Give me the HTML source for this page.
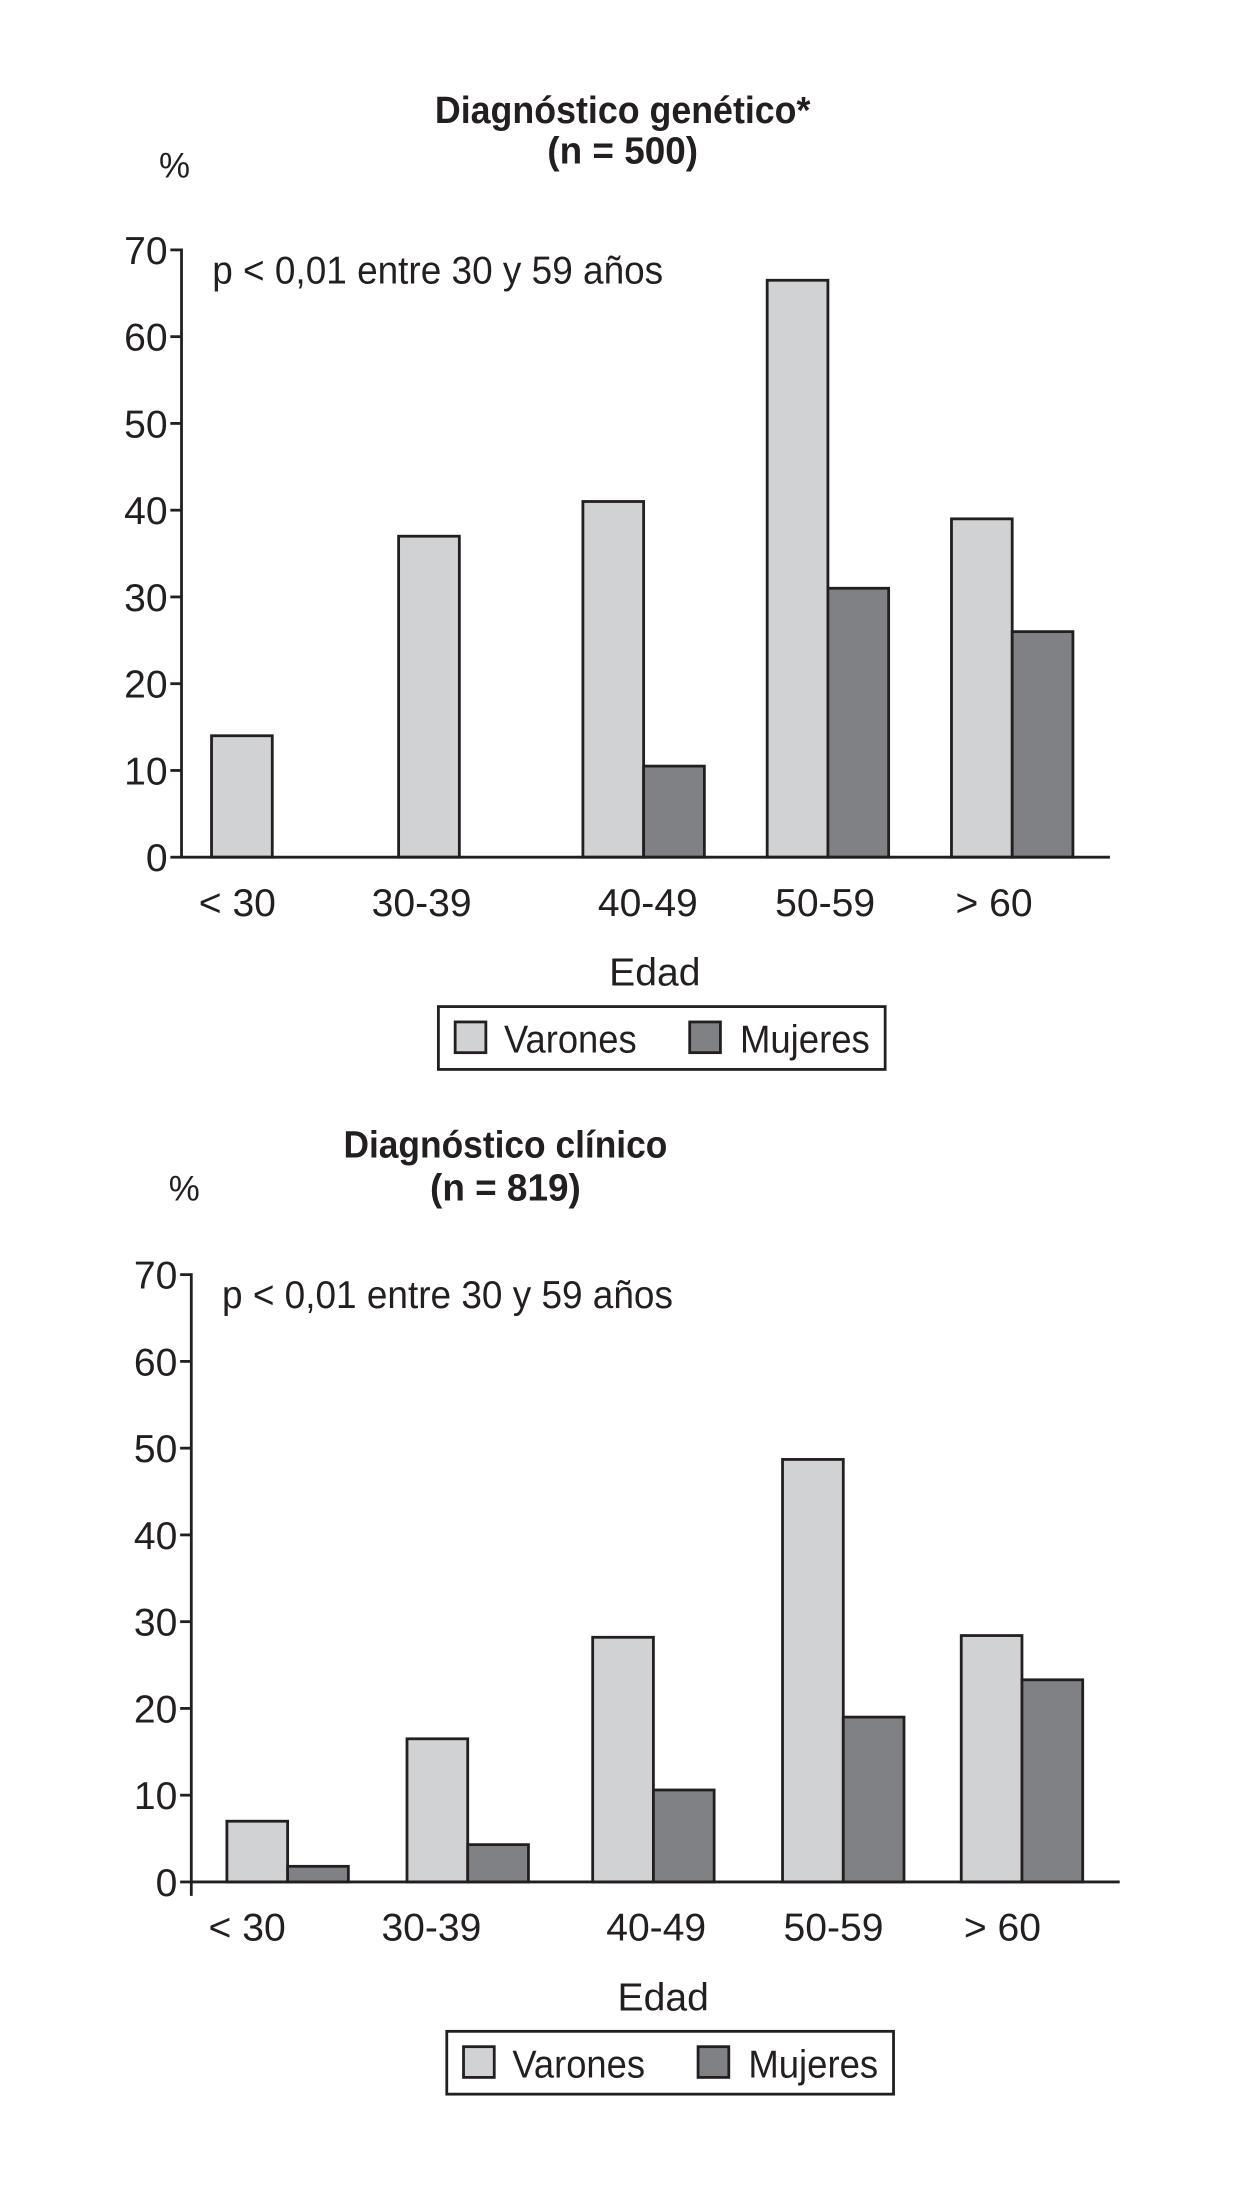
<!DOCTYPE html>
<html><head><meta charset="utf-8"><style>
html,body{margin:0;padding:0;background:#fff;}
svg{display:block;}
text{font-family:"Liberation Sans Narrow","Liberation Sans",sans-serif;fill:#231f20;}
</style></head><body>
<svg id="s" width="1237" height="2205" viewBox="0 0 886 1579.4" xmlns="http://www.w3.org/2000/svg"></svg>
<script>
const categories = ["< 30","30-39","40-49","50-59","> 60"];
const yTicks = [0,10,20,30,40,50,60,70];
const genVarones = [14,37,41,66.5,39];
const genMujeres = [0,0,10.5,31,26];
const cliVarones = [7,16.5,28.2,48.7,28.4];
const cliMujeres = [1.8,4.3,10.6,19,23.3];

const NS="http://www.w3.org/2000/svg";
const svg=document.getElementById('s');
function el(tag,attrs,parent,txt){const e=document.createElementNS(NS,tag);for(const k in attrs)e.setAttribute(k,attrs[k]);if(txt!==undefined)e.textContent=txt;(parent||svg).appendChild(e);return e;}

function chart(cfg,varones,mujeres){
  const g=el('g',{transform:'translate(2,4)'});
  
  
  const y=v=>cfg.y0-(v/70)*(cfg.y0-cfg.y70);
  const t1=el('text',{x:cfg.tx,y:cfg.ty1,'text-anchor':'middle','font-size':27,'font-weight':'bold',textLength:cfg.tl1,lengthAdjust:'spacingAndGlyphs'},g,cfg.title1);
  
  
  const t2=el('text',{x:cfg.tx,y:cfg.ty2,'text-anchor':'middle','font-size':27,'font-weight':'bold',textLength:108,lengthAdjust:'spacingAndGlyphs'},g,cfg.title2);
  
  
  const pc=el('text',{x:cfg.px,y:cfg.py,'text-anchor':'middle','font-size':25},g,'%');
  
  
  const pv=el('text',{x:cfg.ax+22,y:y(70)+24,'font-size':28,textLength:323,lengthAdjust:'spacingAndGlyphs'},g,'p < 0,01 entre 30 y 59 años');
  
  
  yTicks.forEach(t=>{
    const l=el('line',{x1:cfg.ax-8,x2:cfg.ax,y1:y(t),y2:y(t),stroke:'#231f20','stroke-width':2},g);
    
    
    const tx=el('text',{x:cfg.ax-10,y:y(t)+10,'text-anchor':'end','font-size':28},g,String(t));
    
    
  });
  const bw=43.5;
  categories.forEach((c,i)=>{
    const x=cfg.bx[i];
    const bv=el('rect',{x:x-bw,y:y(varones[i]),width:bw,height:cfg.y0-y(varones[i]),fill:'#d1d2d4',stroke:'#231f20','stroke-width':2},g);
    
    
    if(mujeres[i]>0){
      const bm=el('rect',{x:x,y:y(mujeres[i]),width:bw,height:cfg.y0-y(mujeres[i]),fill:'#808184',stroke:'#231f20','stroke-width':2},g);
      
      
    }
    const lb=el('text',{x:cfg.lx[i],y:cfg.y0+42,'text-anchor':'middle','font-size':28},g,c);
    
    
  });
  const ya=el('line',{x1:cfg.ax,x2:cfg.ax,y1:y(70)-1,y2:cfg.y0+cfg.ext,stroke:'#231f20','stroke-width':2},g);
  
  
  const xa=el('line',{x1:cfg.ax,x2:cfg.ax+665,y1:cfg.y0,y2:cfg.y0,stroke:'#231f20','stroke-width':2},g);
  
  
  const ed=el('text',{x:cfg.ex,y:cfg.y0+92,'text-anchor':'middle','font-size':28},g,'Edad');
  
  
  const lg=el('g',{},g);
  
  
  const lx=cfg.lgx, ly=cfg.lgy;
  el('rect',{x:lx,y:ly,width:320,height:45,fill:'#fff',stroke:'#231f20','stroke-width':2},lg);
  const s1=el('rect',{x:lx+12,y:ly+11,width:22,height:22,fill:'#d1d2d4',stroke:'#231f20','stroke-width':2},lg);
  
  
  const l1=el('text',{x:lx+47,y:ly+33,'font-size':28,textLength:95,lengthAdjust:'spacingAndGlyphs'},lg,'Varones');
  
  
  const s2=el('rect',{x:lx+180,y:ly+11,width:22,height:22,fill:'#808184',stroke:'#231f20','stroke-width':2},lg);
  
  
  const l2=el('text',{x:lx+216,y:ly+33,'font-size':28,textLength:93,lengthAdjust:'spacingAndGlyphs'},lg,'Mujeres');
  
  
}

chart({name:'chart-genetico',title1:'Diagnóstico genético*',title2:'(n = 500)',tl1:269,tx:444,ty1:84,ty2:113,px:123,py:123,
  ax:128,y0:610,y70:175,ext:0,bx:[193,327,459,591,723],lx:[168,300,462,589,710],ex:467,lgx:312,lgy:717},genVarones,genMujeres);
chart({name:'chart-clinico',title1:'Diagnóstico clínico',title2:'(n = 819)',tl1:232,tx:360,ty1:825,ty2:856,px:130,py:856,
  ax:135,y0:1344,y70:909,ext:10,bx:[204,333,466,602,730],lx:[175,307,468,595,716],ex:473,lgx:318,lgy:1451},cliVarones,cliMujeres);
</script>
</body></html>
